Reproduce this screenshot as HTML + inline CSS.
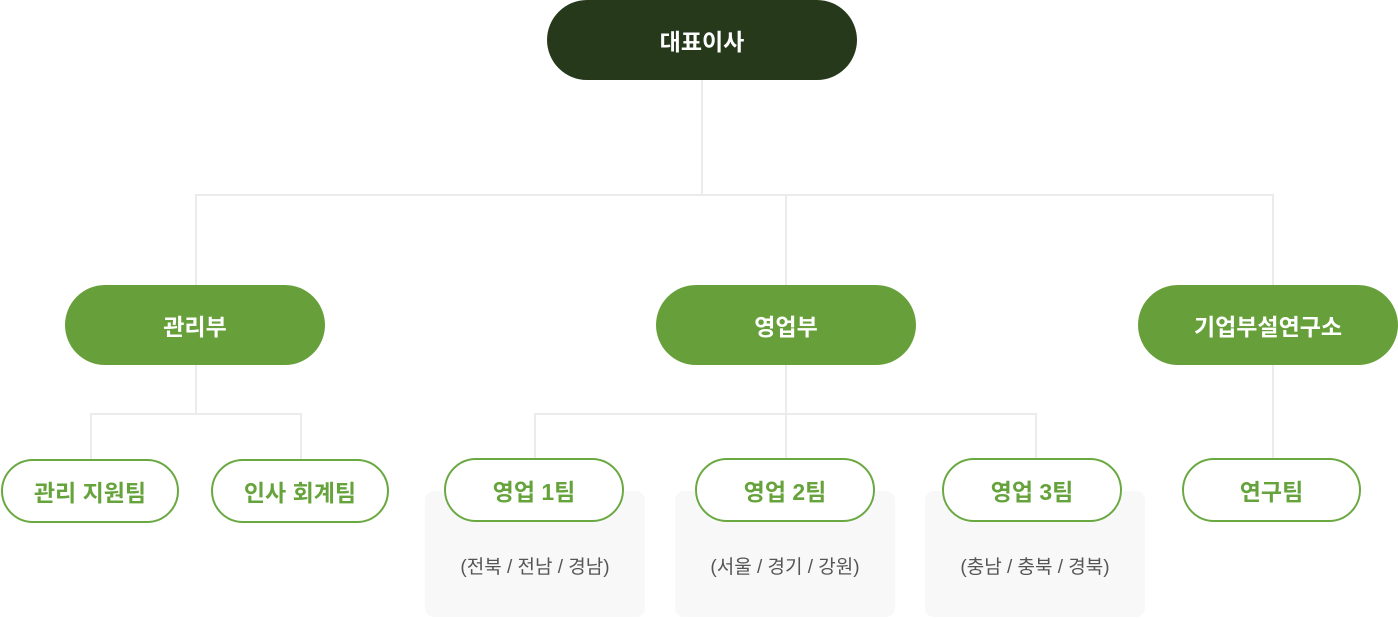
<!DOCTYPE html>
<html>
<head>
<meta charset="utf-8">
<style>
  html,body{margin:0;padding:0;background:#fff;}
  body{width:1398px;height:618px;position:relative;overflow:hidden;font-family:"Liberation Sans","Noto Sans CJK KR",sans-serif;}
  .ln{position:absolute;background:#ebebeb;}
  .node{position:absolute;display:flex;align-items:center;justify-content:center;box-sizing:border-box;font-weight:bold;white-space:nowrap;}
  .top{background:#263a1b;color:#fff;border-radius:40px;font-size:23px;}
  .mid{background:#67a03b;color:#fff;border-radius:40px;font-size:23px;}
  .sm{background:#fff;border:2px solid #6aa841;color:#67a33c;border-radius:32px;font-size:23px;}
  .box{position:absolute;background:#f8f8f8;border-radius:9px;}
  .sub{position:absolute;color:#555;font-size:19px;text-align:center;line-height:24px;}
</style>
</head>
<body>
  <!-- lines -->
  <div class="ln" style="left:701px;top:80px;width:2px;height:116px;"></div>
  <div class="ln" style="left:195px;top:194px;width:1079px;height:2px;"></div>
  <div class="ln" style="left:195px;top:194px;width:2px;height:92px;"></div>
  <div class="ln" style="left:785px;top:194px;width:2px;height:92px;"></div>
  <div class="ln" style="left:1272px;top:194px;width:2px;height:92px;"></div>

  <div class="ln" style="left:195px;top:364px;width:2px;height:51px;"></div>
  <div class="ln" style="left:90px;top:413px;width:212px;height:2px;"></div>
  <div class="ln" style="left:90px;top:413px;width:2px;height:47px;"></div>
  <div class="ln" style="left:300px;top:413px;width:2px;height:47px;"></div>

  <div class="ln" style="left:785px;top:364px;width:2px;height:96px;"></div>
  <div class="ln" style="left:534px;top:413px;width:503px;height:2px;"></div>
  <div class="ln" style="left:534px;top:413px;width:2px;height:47px;"></div>
  <div class="ln" style="left:1035px;top:413px;width:2px;height:47px;"></div>

  <div class="ln" style="left:1272px;top:364px;width:2px;height:96px;"></div>

  <!-- gray boxes -->
  <div class="box" style="left:425px;top:491px;width:220px;height:126px;"></div>
  <div class="box" style="left:675px;top:491px;width:220px;height:126px;"></div>
  <div class="box" style="left:925px;top:491px;width:220px;height:126px;"></div>
  <div class="sub" style="left:425px;top:556px;width:220px;">(전북 / 전남 / 경남)</div>
  <div class="sub" style="left:675px;top:556px;width:220px;">(서울 / 경기 / 강원)</div>
  <div class="sub" style="left:925px;top:556px;width:220px;">(충남 / 충북 / 경북)</div>

  <!-- nodes -->
  <div class="node top" style="left:547px;top:0;width:310px;height:80px;">대표이사</div>

  <div class="node mid" style="left:65px;top:285px;width:260px;height:80px;">관리부</div>
  <div class="node mid" style="left:656px;top:285px;width:260px;height:80px;">영업부</div>
  <div class="node mid" style="left:1138px;top:285px;width:260px;height:80px;">기업부설연구소</div>

  <div class="node sm" style="left:1px;top:459px;width:178px;height:64px;">관리 지원팀</div>
  <div class="node sm" style="left:211px;top:459px;width:178px;height:64px;">인사 회계팀</div>
  <div class="node sm" style="left:444px;top:458px;width:180px;height:64px;">영업 1팀</div>
  <div class="node sm" style="left:695px;top:458px;width:180px;height:64px;">영업 2팀</div>
  <div class="node sm" style="left:942px;top:458px;width:180px;height:64px;">영업 3팀</div>
  <div class="node sm" style="left:1182px;top:458px;width:179px;height:64px;">연구팀</div>
</body>
</html>
